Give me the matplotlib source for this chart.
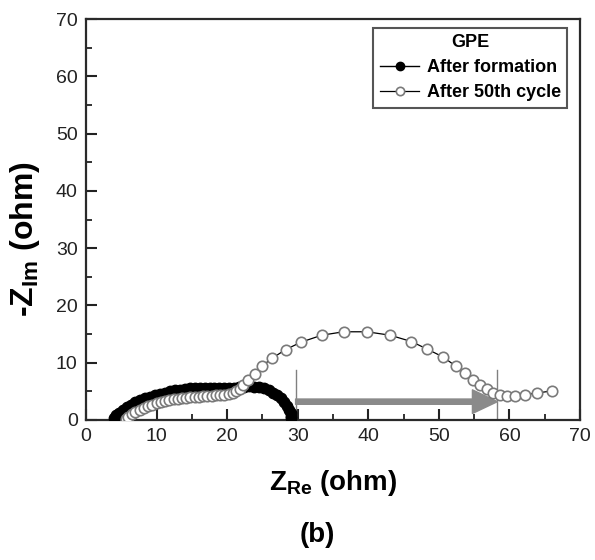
import matplotlib
matplotlib.use("Agg")
import matplotlib.pyplot as plt

plt.rcParams['font.family'] = ['Liberation Sans', 'DejaVu Sans']
plt.rcParams['mathtext.fontset'] = 'custom'
plt.rcParams['mathtext.rm'] = 'Liberation Sans:bold'
plt.rcParams['mathtext.default'] = 'rm'

# After formation (filled)
form_x = [4.0, 4.3, 4.7, 5.2, 5.8, 6.4, 7.0, 7.7, 8.4, 9.1, 9.8, 10.5, 11.2, 11.9, 12.6,
          13.3, 14.0, 14.7, 15.4, 16.1, 16.8, 17.5, 18.2, 18.9, 19.6, 20.3, 21.0, 21.7, 22.4, 23.1,
          23.8, 24.5, 25.2, 25.9, 26.5, 27.1, 27.6, 28.1, 28.5, 28.8, 29.0, 29.1, 29.1]
form_y = [0.3, 0.8, 1.3, 1.8, 2.3, 2.7, 3.1, 3.5, 3.8, 4.1, 4.35, 4.6, 4.8, 5.0, 5.15,
          5.3, 5.4, 5.5, 5.55, 5.6, 5.6, 5.6, 5.6, 5.6, 5.6, 5.6, 5.6, 5.7, 5.8, 5.85,
          5.8, 5.7, 5.5, 5.2, 4.8, 4.3, 3.8, 3.2, 2.5, 1.8, 1.2, 0.7, 0.3]

# After 50th cycle (open)
cyc_x = [5.6, 6.0, 6.5, 7.0, 7.6, 8.2, 8.8, 9.4, 10.0, 10.6, 11.2, 11.8, 12.4, 13.0, 13.6,
         14.2, 14.8, 15.4, 16.0, 16.6, 17.2, 17.8, 18.4, 19.0, 19.6, 20.2, 20.8, 21.3, 21.8, 22.3,
         23.0, 23.9, 24.9, 26.4, 28.3, 30.5, 33.4, 36.5, 39.8, 43.1, 46.1, 48.3, 50.6, 52.4, 53.7,
         54.8, 55.8, 56.8, 57.7, 58.6, 59.6, 60.8, 62.2, 63.9, 66.1]
cyc_y = [0.2, 0.6, 1.0, 1.4, 1.8, 2.1, 2.4, 2.7, 2.9, 3.1, 3.3, 3.45, 3.6, 3.7, 3.8,
         3.9, 4.0, 4.05, 4.1, 4.15, 4.2, 4.25, 4.3, 4.35, 4.4, 4.5, 4.7, 5.0, 5.4, 6.1,
         7.0, 8.0, 9.4, 10.8, 12.3, 13.6, 14.8, 15.4, 15.4, 14.8, 13.7, 12.4, 11.0, 9.4, 8.2,
         7.0, 6.1, 5.4, 4.8, 4.4, 4.2, 4.2, 4.4, 4.7, 5.1]

# Annotation: resistance increase arrow
marker_x = [29.7, 58.3]
marker_top = 8.7
arrow_y = 3.2

x_ticks = [0, 10, 20, 30, 40, 50, 60, 70]
y_ticks = [0, 10, 20, 30, 40, 50, 60, 70]

fig = plt.figure(figsize=(5.95, 5.6), dpi=100)
ax = fig.add_axes([86/595, 1-420/560, 494/595, 401/560])

ax.plot(form_x, form_y, '-', color='black', lw=1, marker='o', ms=7.5,
        mfc='black', mec='black', label='After formation', zorder=3)
ax.plot(cyc_x, cyc_y, '-', color='black', lw=0.9, marker='o', ms=7.5,
        mfc='white', mec='#7a7a7a', mew=1.2, label='After 50th cycle', zorder=4)

for mx in marker_x:
    ax.plot([mx, mx], [0, marker_top], color='#808080', lw=1.0, zorder=2)

ax.annotate('', xy=(marker_x[1], arrow_y), xytext=(marker_x[0], arrow_y),
            arrowprops=dict(width=3.8, headwidth=17, headlength=18, color='#8a8a8a',
                            shrink=0), zorder=2)

ax.set_xlim(0, 70)
ax.set_ylim(0, 70)
ax.set_xticks(x_ticks)
ax.set_yticks(y_ticks)
ax.set_xticks([5, 15, 25, 35, 45, 55, 65], minor=True)
ax.set_yticks([5, 15, 25, 35, 45, 55, 65], minor=True)
ax.tick_params(which='major', direction='in', length=8, width=1.5, color='#222222',
               labelsize=14, labelcolor='#222222', top=False, right=False, pad=6)
ax.tick_params(which='minor', direction='in', length=4.5, width=1.3, color='#222222',
               top=False, right=False)
for s in ax.spines.values():
    s.set_linewidth(1.6)
    s.set_color('#2a2a2a')

ax.set_xlabel(r'Z$_{\mathregular{Re}}$ (ohm)', fontsize=20, fontweight='bold', labelpad=16)
ax.set_ylabel(r'-Z$_{\mathregular{Im}}$ (ohm)', fontsize=23, fontweight='bold')
ax.yaxis.set_label_coords(-0.09, 0.45)

leg = ax.legend(loc='upper right', bbox_to_anchor=(0.974, 0.978), title='GPE',
                prop={'weight': 'bold', 'size': 13}, title_fontproperties={'weight': 'bold', 'size': 13},
                frameon=True, fancybox=False, edgecolor='#2a2a2a', handlelength=2.2,
                handletextpad=0.4, borderpad=0.35, labelspacing=0.45, borderaxespad=0,
                markerscale=0.8)
leg.get_frame().set_linewidth(1.5)

fig.text(317/595, 1-535/560, '(b)', fontsize=20, fontweight='bold', ha='center', va='center')

fig.savefig('out.png', dpi=100)
